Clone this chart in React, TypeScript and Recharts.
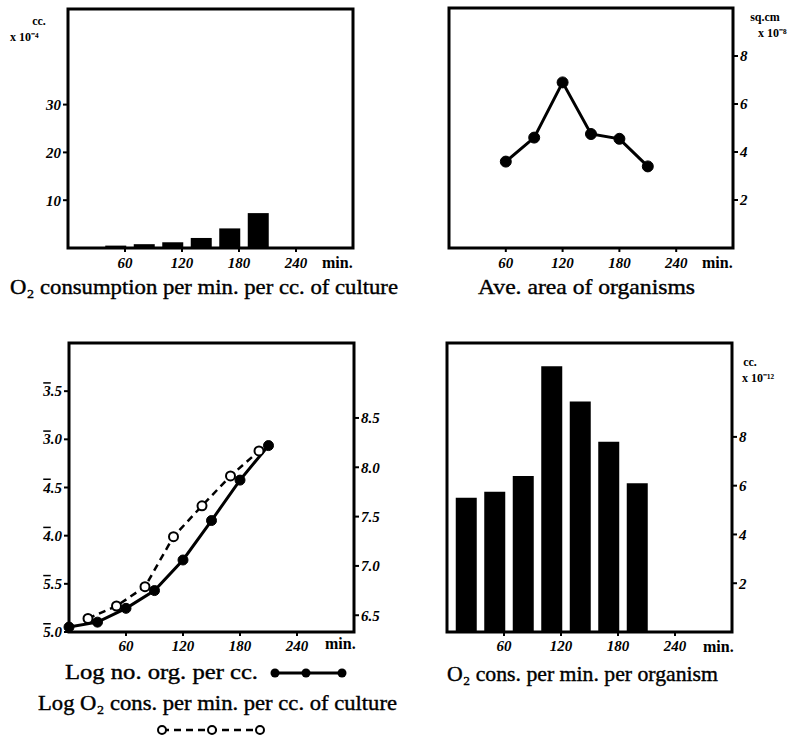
import React from 'react';
import {
  BarChart,
  Bar,
  LineChart,
  Line,
  ComposedChart,
  XAxis,
  YAxis,
  ReferenceArea
} from 'recharts';

// shared time axis (min.)
const timeTicks = [60, 120, 180, 240];

// top left: O2 consumption per min. per cc. of culture (cc. x 10^-4)
const cultureTimes = [50, 80, 110, 140, 170, 200];
const cultureO2 = [0.5, 0.8, 1.2, 2.1, 4.1, 7.3];
const cultureTicks = [10, 20, 30];

// top right: ave. area of organisms (sq.cm x 10^-8)
const areaTimes = [60, 90, 120, 150, 180, 210];
const areaValues = [3.6, 4.6, 6.9, 4.75, 4.55, 3.4];
const areaTicks = [2, 4, 6, 8];

// bottom left: log no. of organisms per cc. (right axis)
const countTimes = [0, 30, 60, 90, 120, 150, 180, 210];
const logCount = [6.38, 6.43, 6.57, 6.75, 7.06, 7.46, 7.87, 8.22];
const logCountTicks = [6.5, 7, 7.5, 8, 8.5];

// bottom left: log O2 cons. per min. per cc. (left axis, bar notation)
const o2Times = [20, 50, 80, 110, 140, 170, 200];
const logO2 = [-4.86, -4.73, -4.53, -4.01, -3.69, -3.38, -3.12];
const logO2Ticks = [-5, -4.5, -4, -3.5, -3, -2.5];

// bottom right: O2 cons. per min. per organism (cc. x 10^-12)
const organismTimes = [20, 50, 80, 110, 140, 170, 200];
const organismO2 = [5.5, 5.75, 6.4, 10.9, 9.45, 7.8, 6.1];
const organismTicks = [2, 4, 6, 8];

const cultureData = cultureTimes.map((t, i) => ({ t, v: cultureO2[i] }));
const areaData = areaTimes.map((t, i) => ({ t, v: areaValues[i] }));
const organismData = organismTimes.map((t, i) => ({ t, v: organismO2[i] }));

const logData = Array.from(new Set([...countTimes, ...o2Times]))
  .sort((a, b) => a - b)
  .map((t) => ({
    t,
    count: countTimes.includes(t) ? logCount[countTimes.indexOf(t)] : undefined,
    o2: o2Times.includes(t) ? logO2[o2Times.indexOf(t)] : undefined
  }));

const FONT = '"Liberation Serif", serif';
const tickStyle = { fill: '#000', fontSize: 15, fontFamily: FONT, fontWeight: 700, fontStyle: 'italic' };
const tickLine = { stroke: '#000', strokeWidth: 2 };

// log value with negative characteristic, e.g. -4.5 -> 5̄.5
function BarTick(props: any) {
  const { x, y, payload } = props;
  const v = payload.value;
  const c = Math.floor(v + 1e-9);
  const m = Math.round((v - c) * 10);
  return (
    <text x={x} y={y} dy={5} textAnchor="end" style={tickStyle}>
      <tspan style={{ textDecoration: 'overline' }}>{-c}</tspan>.{m}
    </text>
  );
}

function timeAxis(margin: number, height: number) {
  return (
    <XAxis
      dataKey="t"
      type="number"
      domain={[0, 300]}
      ticks={timeTicks}
      height={height}
      axisLine={false}
      tickLine={tickLine}
      tickSize={4}
      tickMargin={margin}
      tick={tickStyle}
    />
  );
}

function Overlay() {
  const lbl = { fontFamily: FONT, fontSize: 12, fontWeight: 700, fill: '#000' };
  const cap = { fontFamily: FONT, fontSize: 22, fill: '#000', stroke: '#000', strokeWidth: 0.4 };
  const mins = { fontFamily: FONT, fontSize: 16, fontWeight: 700, fill: '#000' };
  return (
    <svg width={808} height={748} style={{ position: 'absolute', left: 0, top: 0, pointerEvents: 'none' }}>
      <text x={39} y={25} textAnchor="middle" style={lbl}>cc.</text>
      <text x={10} y={41} style={lbl}>x 10⁻⁴</text>
      <text x={765} y={21} textAnchor="middle" style={lbl}>sq.cm</text>
      <text x={758} y={37} style={lbl}>x 10⁻⁸</text>
      <text x={750} y={366} textAnchor="middle" style={lbl}>cc.</text>
      <text x={742} y={382} style={lbl}>x 10⁻¹²</text>

      <text x={322} y={268} style={mins}>min.</text>
      <text x={702} y={268} style={mins}>min.</text>
      <text x={325} y={649} style={mins}>min.</text>
      <text x={703} y={652} style={mins}>min.</text>

      <text x={10} y={294} textLength={388} lengthAdjust="spacingAndGlyphs" style={cap}>
        O₂ consumption per min. per cc. of culture
      </text>
      <text x={478} y={294} textLength={217} lengthAdjust="spacingAndGlyphs" style={cap}>
        Ave. area of organisms
      </text>
      <text x={65} y={679} textLength={193} lengthAdjust="spacingAndGlyphs" style={cap}>
        Log no. org. per cc.
      </text>
      <text x={38} y={710} textLength={359} lengthAdjust="spacingAndGlyphs" style={cap}>
        Log O₂ cons. per min. per cc. of culture
      </text>
      <text x={447} y={681} textLength={271} lengthAdjust="spacingAndGlyphs" style={cap}>
        O₂ cons. per min. per organism
      </text>

      {/* legend samples */}
      <line x1={275} y1={673} x2={342} y2={673} stroke="#000" strokeWidth={3} />
      {[275, 306, 342].map((cx) => (
        <circle key={cx} cx={cx} cy={673} r={4.5} fill="#000" />
      ))}
      <line x1={162} y1={730} x2={260} y2={730} stroke="#000" strokeWidth={2.5} strokeDasharray="7 5" />
      {[162, 212, 260].map((cx) => (
        <circle key={cx} cx={cx} cy={730} r={4} fill="#fff" stroke="#000" strokeWidth={2} />
      ))}
    </svg>
  );
}

export default function App() {
  return (
    <div style={{ position: 'absolute', left: 0, top: 0, width: 808, height: 748, background: '#fff' }}>
      <div style={{ position: 'absolute', left: 0, top: 0 }}>
        <BarChart width={400} height={275} data={cultureData} margin={{ top: 9, right: 47, bottom: 0, left: 0 }}>
          {timeAxis(5, 27)}
          <YAxis
            domain={[0, 50]}
            ticks={cultureTicks}
            width={68}
            axisLine={false}
            tickLine={tickLine}
            tickSize={5}
            tickMargin={2}
            tick={tickStyle}
          />
          <Bar dataKey="v" fill="#000" barSize={21} isAnimationActive={false} />
          <ReferenceArea x1={0} x2={300} y1={0} y2={50} fill="none" stroke="#000" strokeWidth={3} />
        </BarChart>
      </div>

      <div style={{ position: 'absolute', left: 400, top: 0 }}>
        <LineChart width={408} height={275} data={areaData} margin={{ top: 8, right: 0, bottom: 0, left: 49 }}>
          {timeAxis(5, 27)}
          <YAxis
            orientation="right"
            domain={[0, 10]}
            ticks={areaTicks}
            width={75}
            axisLine={false}
            tickLine={tickLine}
            tickSize={5}
            tickMargin={2}
            tick={tickStyle}
          />
          <ReferenceArea x1={0} x2={300} y1={0} y2={10} fill="none" stroke="#000" strokeWidth={3} />
          <Line
            dataKey="v"
            stroke="#000"
            strokeWidth={3}
            dot={{ r: 5.5, fill: '#000', stroke: '#000', strokeWidth: 1 }}
            isAnimationActive={false}
          />
        </LineChart>
      </div>

      <div style={{ position: 'absolute', left: 0, top: 320 }}>
        <ComposedChart width={400} height={340} data={logData} margin={{ top: 23, right: 0, bottom: 0, left: 0 }}>
          {timeAxis(4, 28)}
          <YAxis
            yAxisId="o2"
            domain={[-5, -2]}
            ticks={logO2Ticks}
            width={69}
            axisLine={false}
            tickLine={tickLine}
            tickSize={5}
            tick={<BarTick />}
          />
          <YAxis
            yAxisId="count"
            orientation="right"
            domain={[6.33, 9.26]}
            allowDataOverflow
            ticks={logCountTicks}
            tickFormatter={(v: number) => v.toFixed(1)}
            width={46}
            axisLine={false}
            tickLine={tickLine}
            tickSize={5}
            tickMargin={2}
            tick={tickStyle}
          />
          <ReferenceArea yAxisId="o2" x1={0} x2={300} y1={-5} y2={-2} fill="none" stroke="#000" strokeWidth={3} />
          <Line
            yAxisId="count"
            dataKey="count"
            connectNulls
            stroke="#000"
            strokeWidth={3}
            dot={{ r: 5, fill: '#000', stroke: '#000', strokeWidth: 1 }}
            isAnimationActive={false}
          />
          <Line
            yAxisId="o2"
            dataKey="o2"
            connectNulls
            stroke="#000"
            strokeWidth={2.5}
            strokeDasharray="7 5"
            dot={{ r: 4.5, fill: '#fff', stroke: '#000', strokeWidth: 2, strokeDasharray: '' }}
            isAnimationActive={false}
          />
        </ComposedChart>
      </div>

      <div style={{ position: 'absolute', left: 420, top: 320 }}>
        <BarChart width={388} height={340} data={organismData} margin={{ top: 23, right: 0, bottom: 0, left: 27 }}>
          {timeAxis(4, 28)}
          <YAxis
            orientation="right"
            domain={[0, 11.85]}
            allowDataOverflow
            ticks={organismTicks}
            width={76}
            axisLine={false}
            tickLine={tickLine}
            tickSize={5}
            tickMargin={2}
            tick={tickStyle}
          />
          <Bar dataKey="v" fill="#000" barSize={21} isAnimationActive={false} />
          <ReferenceArea x1={0} x2={300} y1={0} y2={11.85} fill="none" stroke="#000" strokeWidth={3} />
        </BarChart>
      </div>

      <Overlay />
    </div>
  );
}
